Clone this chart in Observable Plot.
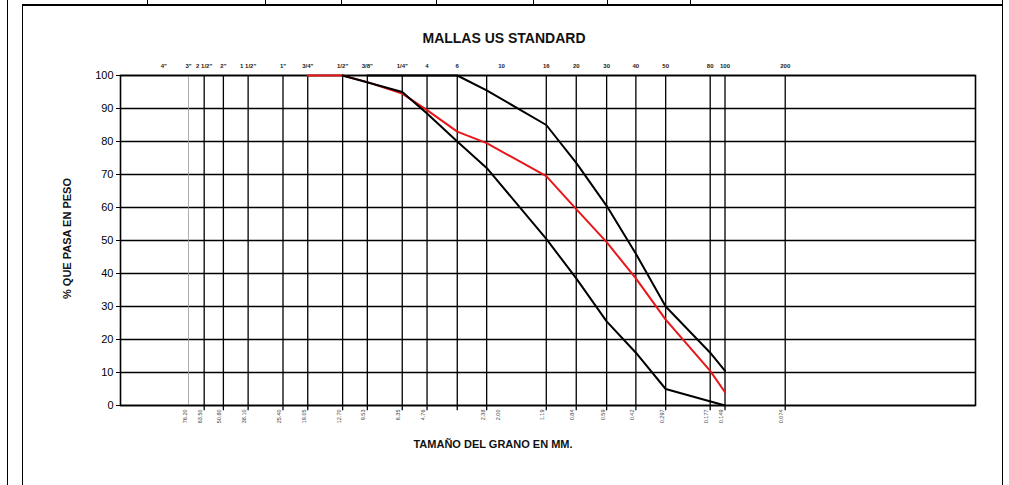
<!DOCTYPE html>
<html>
<head>
<meta charset="utf-8">
<script src="https://cdn.jsdelivr.net/npm/d3@7"></script>
<script src="https://cdn.jsdelivr.net/npm/@observablehq/plot@0.6"></script>
<style>
  html, body { margin: 0; padding: 0; background: #fff; }
  #wrap { position: relative; width: 1009px; height: 485px; overflow: hidden; font-family: "Liberation Sans", Arial, sans-serif; }
  #wrap svg { position: absolute; left: 0; top: 0; }
  .ln { position: absolute; background: #000; }
</style>
</head>
<body>
<div id="wrap"></div>
<script>
// ---- data ----
// vertical grid lines (sieve openings, mm)
const gridMM = [76.2, 63.5, 50.8, 38.1, 25.4, 19.05, 12.7, 9.53, 6.35, 4.76, 3.35, 2.38, 1.19, 0.84, 0.59, 0.42, 0.297, 0.177, 0.149, 0.074];
// bottom (mm) tick labels
const bottomMM = [76.2, 63.5, 50.8, 38.1, 25.4, 19.05, 12.7, 9.53, 6.35, 4.76, 2.38, 2.00, 1.19, 0.84, 0.59, 0.42, 0.297, 0.177, 0.149, 0.074];
const bottomLabels = ["76.20", "63.50", "50.80", "38.10", "25.40", "19.05", "12.70", "9.53", "6.35", "4.76", "2.38", "2.00", "1.19", "0.84", "0.59", "0.42", "0.297", "0.177", "0.149", "0.074"];
// top (US standard sieve) labels
const topMM = [101.6, 76.2, 63.5, 50.8, 38.1, 25.4, 19.05, 12.7, 9.53, 6.35, 4.76, 3.35, 2.00, 1.19, 0.84, 0.59, 0.42, 0.297, 0.177, 0.149, 0.074];
const topLabels = ['4"', '3"', '2 1/2"', '2"', '1 1/2"', '1"', '3/4"', '1/2"', '3/8"', '1/4"', '4', '6', '10', '16', '20', '30', '40', '50', '80', '100', '200'];
const yTicks = [0, 10, 20, 30, 40, 50, 60, 70, 80, 90, 100];

// lower limit
const lowerMM  = [12.7, 6.35, 4.76, 3.35, 2.38, 1.19, 0.84, 0.59, 0.42, 0.297, 0.149];
const lowerPct = [100, 95, 88.5, 80, 72, 50.5, 38.5, 25.5, 16, 5, 0];
// upper limit
const upperMM  = [9.53, 3.35, 2.38, 1.19, 0.84, 0.59, 0.42, 0.297, 0.177, 0.149];
const upperPct = [100, 100, 95.5, 85, 73.5, 60.5, 46, 30, 16, 10.5];
// sample
const sampleMM  = [19.05, 12.7, 9.53, 6.35, 4.76, 3.35, 2.38, 1.19, 0.84, 0.59, 0.42, 0.297, 0.177, 0.149];
const samplePct = [100, 100, 98, 94.5, 89.5, 83, 79.5, 69.5, 59.5, 49.5, 38.5, 26, 10.5, 4];

// ---- build tables ----
const zip = (xs, ys) => xs.map((x, i) => ({mm: x, pct: ys[i]}));
const lower = zip(lowerMM, lowerPct);
const upper = zip(upperMM, upperPct);
const sample = zip(sampleMM, samplePct);
const bottomRows = bottomMM.map((v, i) => ({mm: v, label: bottomLabels[i]}));
const topRows = topMM.map((v, i) => ({mm: v, label: topLabels[i]}));
const grayLine = [76.2];
const blackLines = gridMM.filter(d => d !== 76.2);

const font = '"Liberation Sans", Arial, sans-serif';

const chart = Plot.plot({
  width: 1009,
  height: 485,
  marginLeft: 120,
  marginRight: 34,
  marginTop: 75,
  marginBottom: 80,
  style: {fontFamily: font, background: "white", overflow: "visible"},
  x: {type: "log", domain: [168, 0.0081], axis: null},
  y: {domain: [0, 100], axis: null},
  marks: [
    Plot.ruleY(yTicks, {stroke: "#000", strokeWidth: 1.3}),
    Plot.ruleX(blackLines, {y1: 0, y2: 100, stroke: "#000", strokeWidth: 1.3}),
    Plot.ruleX(grayLine, {y1: 0, y2: 100, stroke: "#999", strokeWidth: 0.8}),
    // bottom tick marks
    Plot.ruleX(blackLines, {y1: 0, y2: -1.6, stroke: "#000", strokeWidth: 1.3}),
    Plot.frame({stroke: "#000", strokeWidth: 1.6}),
    Plot.line(sample, {x: "mm", y: "pct", stroke: "#e8161b", strokeWidth: 2}),
    Plot.line(lower, {x: "mm", y: "pct", stroke: "#000", strokeWidth: 2}),
    Plot.line(upper, {x: "mm", y: "pct", stroke: "#000", strokeWidth: 2}),
    Plot.axisY({ticks: yTicks, tickSize: 4, tickPadding: 3, fontSize: 11, label: null,
      style: {letterSpacing: "1.2px", color: "#444"}}),
    Plot.text(bottomRows, {x: "mm", text: "label", frameAnchor: "bottom", dy: 4, dx: -2, rotate: -90,
      textAnchor: "end", fontSize: 5.5, fill: "#444"}),
    Plot.text(topRows, {x: "mm", text: "label", frameAnchor: "top", dy: -12, fontSize: 6,
      fontWeight: "bold", fill: "#222"}),
    Plot.text(["MALLAS US STANDARD"], {frameAnchor: "top", dy: -42, dx: -44, fontSize: 14,
      fontWeight: "bold", fill: "#111", style: {letterSpacing: "1.2px"}}),
    Plot.text(["% QUE PASA EN PESO"], {frameAnchor: "left", dx: -53, dy: -2, rotate: -90, fontSize: 11,
      fontWeight: "bold", fill: "#111", textAnchor: "middle"}),
    Plot.text(["TAMAÑO DEL GRANO EN MM."], {frameAnchor: "bottom", dy: 42, dx: -55, fontSize: 11,
      fontWeight: "bold", fill: "#111"})
  ]
});

const wrap = document.getElementById("wrap");
wrap.appendChild(chart);
// page frame (document box around the chart)
function line(l, t, w, h) {
  const d = document.createElement("div");
  d.className = "ln";
  d.style.left = l + "px"; d.style.top = t + "px"; d.style.width = w + "px"; d.style.height = h + "px";
  wrap.appendChild(d);
}
line(7, 0, 1, 485);
line(22, 5, 1, 480);
line(22, 4, 981, 2);
line(1002, 0, 1, 485);
[147, 265, 341, 436, 533, 607, 690].forEach(x => line(x, 0, 1, 5));
</script>
</body>
</html>
